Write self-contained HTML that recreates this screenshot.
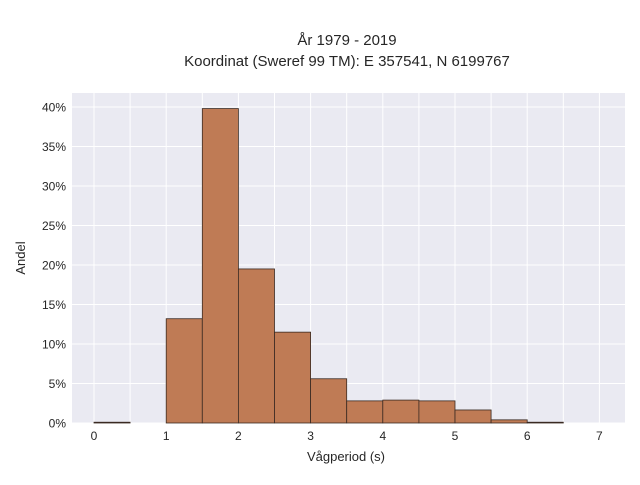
<!DOCTYPE html>
<html><head><meta charset="utf-8"><style>
body{margin:0;background:#fff;}
svg{font-family:"Liberation Sans",sans-serif;}
</style></head><body>
<svg id="chart" width="640" height="480">
<rect x="0" y="0" width="640" height="480" fill="#fff"/>
<text x="347" y="45" font-size="15" fill="#262626" text-anchor="middle">År 1979 - 2019</text>
<text x="347" y="66" font-size="15" fill="#262626" text-anchor="middle">Koordinat (Sweref 99 TM): E 357541, N 6199767</text>
<rect x="72" y="93" width="553" height="330" fill="#eaeaf2"/>
<g id="grid"></g><g id="bars"></g><g id="axes"></g>
<text x="346" y="461" font-size="13" fill="#262626" text-anchor="middle">Vågperiod (s)</text>
<text transform="translate(25,258) rotate(-90)" font-size="13" fill="#262626" text-anchor="middle">Andel</text>
</svg>
<script>
const binStarts=[0,0.5,1,1.5,2,2.5,3,3.5,4,4.5,5,5.5,6,6.5];
const shares=[0.1,0,13.2,39.8,19.5,11.5,5.6,2.8,2.9,2.8,1.65,0.4,0.1,0];
const xTicks=[0,1,2,3,4,5,6,7];
const yTicks=[0,5,10,15,20,25,30,35,40];
const binWidth=0.5;
const NS="http://www.w3.org/2000/svg";
function sx(v){return 94+v*72.2;}
function sy(v){return 423-v*7.9;}
function mk(tag,attrs,parent){const e=document.createElementNS(NS,tag);for(const k in attrs)e.setAttribute(k,attrs[k]);parent.appendChild(e);return e;}
const grid=document.getElementById('grid'),bars=document.getElementById('bars'),axes=document.getElementById('axes');
for(let v=0;v<=7;v+=0.5){const l=mk('line',{x1:sx(v),x2:sx(v),y1:93,y2:423,stroke:'#fff','stroke-width':1},grid);

}
for(const t of yTicks){const l=mk('line',{x1:72,x2:625,y1:sy(t),y2:sy(t),stroke:'#fff','stroke-width':1},grid);


const tx=mk('text',{x:66,y:sy(t)+4.5,'font-size':12,fill:'#262626','text-anchor':'end'},axes);tx.textContent=t+'%';

}
for(const t of xTicks){const tx=mk('text',{x:sx(t),y:440,'font-size':12,fill:'#262626','text-anchor':'middle'},axes);tx.textContent=t;

}
binStarts.forEach((b,i)=>{const v=shares[i];if(v<=0)return;
const r=mk('rect',{x:sx(b),y:sy(v),width:sx(b+binWidth)-sx(b),height:sy(0)-sy(v),fill:'#bf7b55',stroke:'#3a2a22','stroke-width':0.8},bars);

});
</script>
</body></html>
